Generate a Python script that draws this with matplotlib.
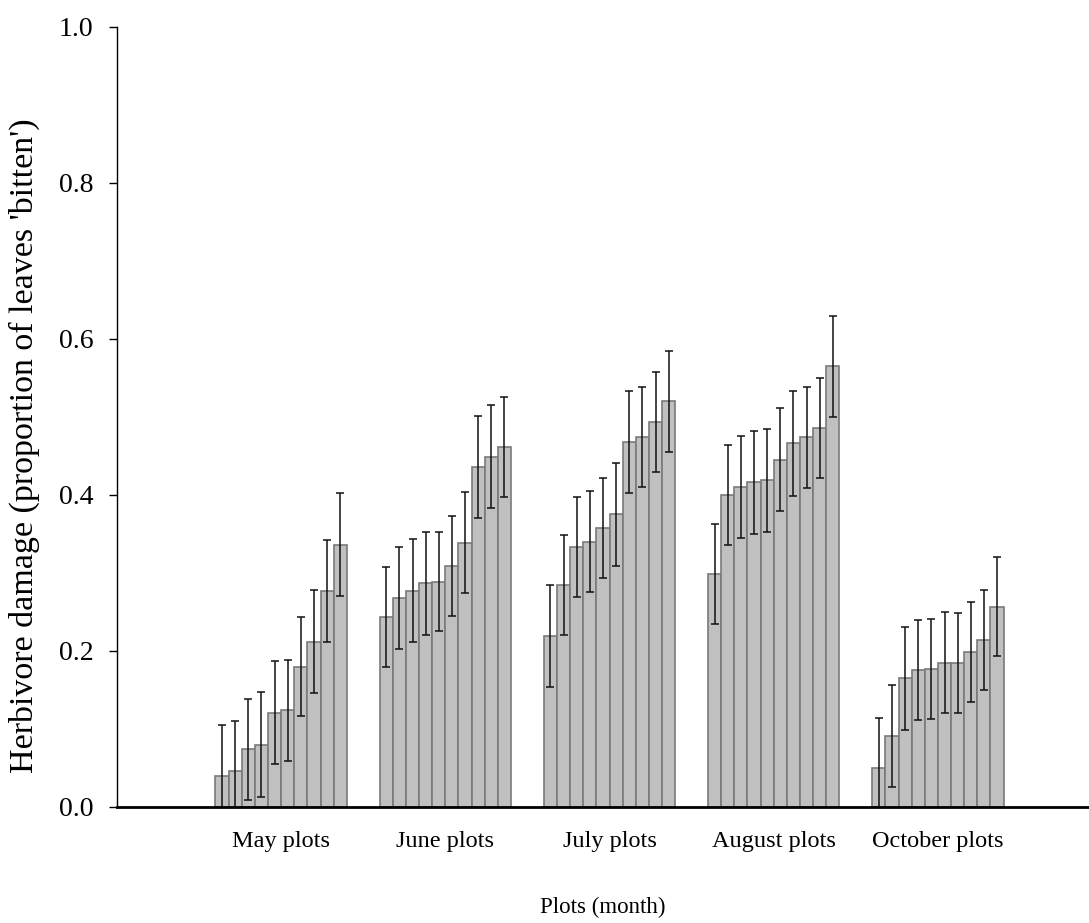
import numpy as np
import matplotlib
matplotlib.use("Agg")
import matplotlib.pyplot as plt

plt.rcParams['font.family'] = ['Liberation Serif', 'DejaVu Serif']

months = ["May plots", "June plots", "July plots", "August plots", "October plots"]

may_mean = [0.040, 0.046, 0.074, 0.080, 0.121, 0.124, 0.180, 0.212, 0.277, 0.336]
may_err = [0.065, 0.064, 0.065, 0.067, 0.066, 0.065, 0.064, 0.066, 0.065, 0.066]

june_mean = [0.244, 0.268, 0.277, 0.287, 0.289, 0.309, 0.339, 0.436, 0.449, 0.461]
june_err = [0.064, 0.065, 0.066, 0.066, 0.064, 0.064, 0.065, 0.065, 0.066, 0.064]

july_mean = [0.219, 0.285, 0.333, 0.340, 0.358, 0.375, 0.468, 0.474, 0.494, 0.520]
july_err = [0.065, 0.064, 0.064, 0.065, 0.064, 0.066, 0.065, 0.064, 0.064, 0.065]

august_mean = [0.299, 0.400, 0.410, 0.416, 0.419, 0.445, 0.466, 0.474, 0.486, 0.565]
august_err = [0.064, 0.064, 0.065, 0.066, 0.066, 0.066, 0.067, 0.065, 0.064, 0.065]

october_mean = [0.050, 0.091, 0.165, 0.176, 0.177, 0.185, 0.185, 0.199, 0.214, 0.257]
october_err = [0.064, 0.065, 0.066, 0.064, 0.064, 0.065, 0.064, 0.064, 0.064, 0.064]

means = [may_mean, june_mean, july_mean, august_mean, october_mean]
errs = [may_err, june_err, july_err, august_err, october_err]

fig = plt.figure(figsize=(10.89, 9.23), dpi=100)
ax = fig.add_axes([0.1074, 0.1257, 0.8926, 0.8451])

width = 0.08
for i, (m, e) in enumerate(zip(means, errs)):
    center = i + 1
    x = center + (np.arange(len(m)) - (len(m) - 1) / 2) * width
    ax.bar(x, m, width=width, color="#c0c0c0", edgecolor="#7a7a7a",
           linewidth=1.2, zorder=2)
    ax.errorbar(x, m, yerr=e, fmt="none", ecolor="#111111", elinewidth=1.1,
                capsize=2.6, capthick=1.1, zorder=3)

ax.set_xlim(0, 5.92)
ax.set_ylim(0, 1.0)
ax.set_yticks([0.0, 0.2, 0.4, 0.6, 0.8, 1.0])
ax.set_yticklabels(["0.0", "0.2", "0.4", "0.6", "0.8", "1.0"], fontsize=20)
ax.set_xticks(np.arange(1, 6))
ax.set_xticklabels(months, fontsize=17.5)
ax.tick_params(axis="x", direction="in", length=8.5, width=1, pad=17)
ax.tick_params(axis="y", direction="out", length=6, width=1, pad=11)

ax.spines["top"].set_visible(False)
ax.spines["right"].set_visible(False)
ax.spines["left"].set_linewidth(1)
ax.spines["bottom"].set_linewidth(2)
ax.spines["bottom"].set_zorder(4)

ax.set_ylabel("Herbivore damage (proportion of leaves 'bitten')", fontsize=24.5)
ax.yaxis.set_label_coords(-0.079, 0.463)
ax.set_xlabel("Plots (month)", fontsize=16.5)
ax.xaxis.set_label_coords(0.5, -0.115)

fig.savefig("out.png", dpi=100)
